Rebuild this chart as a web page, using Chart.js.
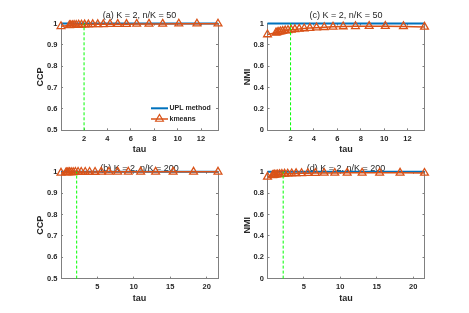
<!DOCTYPE html>
<html>
<head>
<meta charset="utf-8">
<script src="https://cdn.jsdelivr.net/npm/chart.js@4.4.1/dist/chart.umd.min.js"></script>
<style>
html,body{margin:0;padding:0;background:#fff;}
#wrap{position:relative;width:469px;height:313px;overflow:hidden;background:#fff;}
canvas{position:absolute;}
</style>
</head>
<body>
<div id="wrap">
  <canvas id="pa" width="234" height="157" style="left:0;top:0;width:234px;height:157px"></canvas>
  <canvas id="pc" width="235" height="157" style="left:234px;top:0;width:235px;height:157px"></canvas>
  <canvas id="pb" width="234" height="156" style="left:0;top:157px;width:234px;height:156px"></canvas>
  <canvas id="pd" width="235" height="156" style="left:234px;top:157px;width:235px;height:156px"></canvas>
</div>
<script>
/* K = 2 : CCP / NMI against tau, UPL method vs kmeans */

// ── Data ────────────────────────────────────────────────────────────────────
const TAU_50  = [0.03, 0.75, 0.86, 1.0, 1.15, 1.33, 1.54, 1.78, 2.05, 2.37, 2.74,
                 3.17, 3.65, 4.22, 4.88, 5.63, 6.5, 7.55, 8.72, 10.1, 11.65, 13.45];
const TAU_200 = [0.03, 0.72, 0.85, 1.0, 1.2, 1.43, 1.7, 2.0, 2.37, 2.8, 3.35,
                 3.95, 4.7, 5.55, 6.6, 7.8, 9.25, 10.95, 13.0, 15.4, 18.2, 21.55];

const CCP_UPL_50 = [1,1,1,1,1,1,1,1,1,1,1,1,1,1,1,1,1,1,1,1,1,1];
const CCP_KM_50  = [0.987, 0.991, 0.992, 0.992, 0.993, 0.993, 0.994, 0.994, 0.995, 0.995, 0.996,
                    0.996, 0.996, 0.997, 0.997, 0.997, 0.998, 0.998, 0.998, 0.999, 0.999, 0.999];
const NMI_UPL_50 = [1,1,1,1,1,1,1,1,1,1,1,1,1,1,1,1,1,1,1,1,1,1];
const NMI_KM_50  = [0.897, 0.913, 0.917, 0.921, 0.925, 0.929, 0.933, 0.937, 0.941, 0.945, 0.949,
                    0.953, 0.957, 0.961, 0.965, 0.969, 0.972, 0.974, 0.975, 0.975, 0.973, 0.968];

const CCP_UPL_200 = [1,1,1,1,1,1,1,1,1,1,1,1,1,1,1,1,1,1,1,1,1,1];
const CCP_KM_200  = [0.995, 0.997, 0.997, 0.998, 0.998, 0.998, 0.998, 0.999, 0.999, 0.999, 0.999,
                     0.999, 0.999, 1, 1, 1, 1, 1, 1, 1, 1, 1];
const NMI_UPL_200 = [1,1,1,1,1,1,1,1,1,1,1,1,1,1,1,1,1,1,1,1,1,1];
const NMI_KM_200  = [0.953, 0.967, 0.969, 0.971, 0.973, 0.975, 0.977, 0.979, 0.981, 0.982, 0.984,
                     0.985, 0.986, 0.987, 0.988, 0.989, 0.989, 0.99, 0.99, 0.99, 0.99, 0.989];

const TAU_STAR_50  = 2.0;    // green dashed marker
const TAU_STAR_200 = 2.18;

const CCP_TICKS    = [0.5, 0.6, 0.7, 0.8, 0.9, 1];
const NMI_TICKS    = [0, 0.2, 0.4, 0.6, 0.8, 1];
const X_TICKS_50   = [2, 4, 6, 8, 10, 12];
const X_TICKS_200  = [5, 10, 15, 20];

const TITLES  = ["(a) K = 2, n/K = 50", "(b) K = 2, n/K = 200",
                 "(c) K = 2, n/K = 50", "(d) K = 2, n/K = 200"];
const SERIES  = ["UPL method", "kmeans"];

// ── Style ───────────────────────────────────────────────────────────────────
const FONT   = "'Liberation Sans', Arial, Helvetica, sans-serif";
const BLUE   = "#0072bd";
const ORANGE = "#d95319";
const GREEN  = "#00ff00";
const TXT    = "#262626";
const AXIS   = "#808080";

// small legend in the lower right of panel (a)
const miniLegend = {
    id:"miniLegend",
    afterDraw(chart){
        const {ctx, chartArea:ca} = chart;
        const xa = ca.right-67, xb = ca.right-50, xt = ca.right-48.5;
        const rows = [ca.bottom-22, ca.bottom-11.3];
        ctx.save();
        ctx.font = "bold 7px "+FONT;
        ctx.textBaseline = "middle";
        ctx.fillStyle = TXT;
        // UPL
        ctx.strokeStyle = BLUE; ctx.lineWidth = 2;
        ctx.beginPath(); ctx.moveTo(xa,rows[0]); ctx.lineTo(xb,rows[0]); ctx.stroke();
        ctx.fillText(SERIES[0], xt, rows[0]);
        // kmeans
        ctx.strokeStyle = ORANGE; ctx.lineWidth = 1.5;
        ctx.beginPath(); ctx.moveTo(xa,rows[1]); ctx.lineTo(xb,rows[1]); ctx.stroke();
        const cx=(xa+xb)/2, cy=rows[1], r=4.5;
        ctx.lineWidth = 1.2;
        ctx.beginPath();
        ctx.moveTo(cx, cy-r);
        ctx.lineTo(cx+r*0.866, cy+r/2);
        ctx.lineTo(cx-r*0.866, cy+r/2);
        ctx.closePath(); ctx.stroke();
        ctx.fillText(SERIES[1], xt, rows[1]);
        ctx.restore();
    }
};

function pts(xs, ys){ return xs.map((x,i)=>({x:x, y:ys[i]})); }

function axisX(p, pos){
    const main = pos==="bottom";
    return {
        type:"linear", position:pos, min:p.tau[0], max:p.tau[p.tau.length-1],
        afterBuildTicks:s=>{ s.ticks = p.xTicks.map(v=>({value:v})); },
        afterFit:s=>{ s.height = main ? p.xH : 0; },
        grid:{drawOnChartArea:false, drawTicks:true, tickLength:-2, color:AXIS},
        border:{display:true, color:AXIS, width:1},
        ticks:{display:main, padding:6, color:TXT, autoSkip:false, maxRotation:0,
               font:{family:FONT, size:7.5, weight:"bold"}, callback:v=>String(v)},
        title:{display:main, text:"tau", color:TXT,
               font:{family:FONT, size:9, weight:"bold"}, padding:{top:0, bottom:p.tauPad}}
    };
}

function axisY(p, pos){
    const main = pos==="left";
    return {
        type:"linear", position:pos, min:p.yTicks[0], max:p.yTicks[p.yTicks.length-1],
        afterBuildTicks:s=>{ s.ticks = p.yTicks.map(v=>({value:v})); },
        afterFit:s=>{ s.width = main ? p.yW : 0; },
        grid:{drawOnChartArea:false, drawTicks:true, tickLength:-2, color:AXIS},
        border:{display:true, color:AXIS, width:1},
        ticks:{display:main, padding:5.5, color:TXT, autoSkip:false,
               font:{family:FONT, size:7.5, weight:"bold"}, callback:v=>String(v)},
        title:{display:main, text:p.yLabel, color:TXT,
               font:{family:FONT, size:9, weight:"bold"}, padding:{top:p.yTitlePad, bottom:0}}
    };
}

function panel(id, p){
    const lo = p.yTicks[0], hi = p.yTicks[p.yTicks.length-1];
    new Chart(document.getElementById(id), {
        type:"line",
        data:{datasets:[
            {label:SERIES[1], data:pts(p.tau, p.km), borderColor:ORANGE, borderWidth:1.5,
             pointStyle:"triangle", pointRadius:4.5, pointBorderWidth:1.3,
             pointBorderColor:ORANGE, pointBackgroundColor:"rgba(0,0,0,0)",
             tension:0, clip:false, order:1},
            {label:SERIES[0], data:pts(p.tau, p.upl), borderColor:BLUE, borderWidth:2,
             pointRadius:0, tension:0, clip:false, order:2},
            {label:"tau*", data:[{x:p.star, y:lo}, {x:p.star, y:hi}], borderColor:GREEN,
             borderWidth:1, borderDash:[3,2], pointRadius:0, clip:false, order:0}
        ]},
        options:{
            responsive:false, animation:false, events:[],
            layout:{padding:{left:0, right:p.padR, top:0, bottom:0}},
            plugins:{
                legend:{display:false}, tooltip:{enabled:false},
                title:{display:true, fullSize:false, text:p.title, color:TXT,
                       font:{family:FONT, size:9, weight:"normal"},
                       padding:{top:p.tTop, bottom:p.tBot}}
            },
            scales:{x:axisX(p,"bottom"), x2:axisX(p,"top"), y:axisY(p,"left"), y2:axisY(p,"right")}
        },
        plugins: p.legend ? [miniLegend] : []
    });
}

// ── Init ────────────────────────────────────────────────────────────────────
// title box height = tTop + 10.8 + tBot  (= top of the axes box)
panel("pa", {title:TITLES[0], tau:TAU_50, upl:CCP_UPL_50, km:CCP_KM_50, star:TAU_STAR_50,
    yTicks:CCP_TICKS, xTicks:X_TICKS_50, yLabel:"CCP", legend:true,
    yW:61, padR:16, xH:26.7, tTop:10.1, tBot:2.6, yTitlePad:35.6, tauPad:1.6});
panel("pc", {title:TITLES[2], tau:TAU_50, upl:NMI_UPL_50, km:NMI_KM_50, star:TAU_STAR_50,
    yTicks:NMI_TICKS, xTicks:X_TICKS_50, yLabel:"NMI",
    yW:33.5, padR:44.5, xH:26.7, tTop:10.1, tBot:2.6, yTitlePad:7.9, tauPad:1.6});
panel("pb", {title:TITLES[1], tau:TAU_200, upl:CCP_UPL_200, km:CCP_KM_200, star:TAU_STAR_200,
    yTicks:CCP_TICKS, xTicks:X_TICKS_200, yLabel:"CCP",
    yW:61, padR:16, xH:34.4, tTop:6.1, tBot:-2.1, yTitlePad:35.6, tauPad:9.5});
panel("pd", {title:TITLES[3], tau:TAU_200, upl:NMI_UPL_200, km:NMI_KM_200, star:TAU_STAR_200,
    yTicks:NMI_TICKS, xTicks:X_TICKS_200, yLabel:"NMI",
    yW:33.5, padR:44.5, xH:34.4, tTop:6.1, tBot:-2.1, yTitlePad:7.9, tauPad:9.5});
</script>
</body>
</html>
